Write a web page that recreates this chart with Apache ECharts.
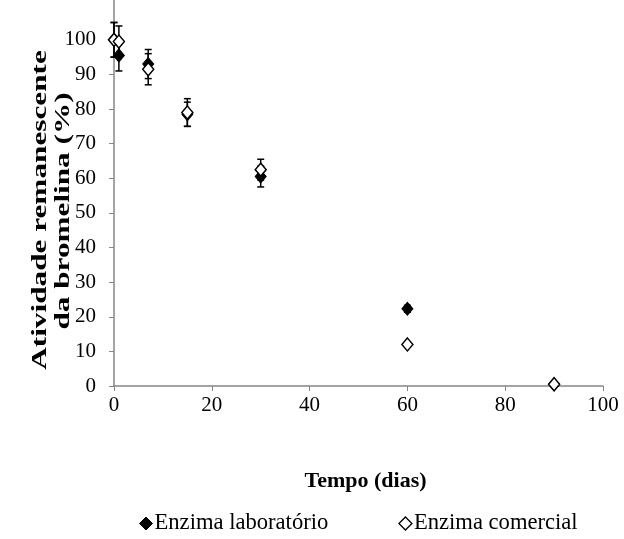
<!DOCTYPE html>
<html><head><meta charset="utf-8">
<script src="https://cdn.jsdelivr.net/npm/echarts@6/dist/echarts.min.js"></script>
<style>html,body{margin:0;padding:0;background:#fff}#c{width:624px;height:539px}</style>
</head><body><div id="c"></div>
<script>
const days = [0, 1, 7, 15, 30, 60, 90];
const labValues = [100, 95.5, 93, 78.5, 60.5, 22.3, 0.5];
const labErr = [5, 4.5, 4.2, 3.5, 3, 1, 0.3];
const comValues = [100, 99.5, 91.5, 79, 62.5, 12, 0.5];
const comErr = [5, 4.5, 4.5, 4, 3, 0.5, 0.3];
const xTicks = [0, 20, 40, 60, 80, 100];
const yTicks = [0, 10, 20, 30, 40, 50, 60, 70, 80, 90, 100];

const font = 'Liberation Serif';
const pts = (v) => days.map((d, i) => [d, v[i]]);
const errData = (v, e) => days.map((d, i) => [d, v[i] - e[i], v[i] + e[i]]);

function errRender(params, api) {
  const x = api.value(0);
  const lo = api.coord([x, api.value(1)]);
  const hi = api.coord([x, api.value(2)]);
  const w = 3.5;
  const st = { stroke: '#000', lineWidth: 1.5 };
  return { type: 'group', children: [
    { type: 'line', shape: { x1: lo[0], y1: lo[1], x2: hi[0], y2: hi[1] }, style: st },
    { type: 'line', shape: { x1: lo[0] - w, y1: lo[1], x2: lo[0] + w, y2: lo[1] }, style: st },
    { type: 'line', shape: { x1: hi[0] - w, y1: hi[1], x2: hi[0] + w, y2: hi[1] }, style: st }
  ]};
}

const chart = echarts.init(document.getElementById('c'), null, { renderer: 'canvas' });
chart.setOption({
  animation: false,
  backgroundColor: '#fff',
  textStyle: { fontFamily: font },
  grid: { left: 114, right: 21, top: 0, bottom: 153, containLabel: false },
  xAxis: {
    type: 'value', min: 0, max: 100, interval: 20,
    name: 'Tempo (dias)', nameLocation: 'middle', nameGap: 84,
    nameTextStyle: { fontFamily: font, fontSize: 22, fontWeight: 'bold', color: '#000', padding: [0, 0, 0, 14] },
    axisLine: { lineStyle: { color: '#868686', width: 1.5 } },
    axisTick: { show: true, inside: false, length: 5, customValues: xTicks, lineStyle: { color: '#868686' } },
    axisLabel: { fontFamily: font, fontSize: 21, color: '#000', margin: 9, customValues: xTicks },
    splitLine: { show: false }
  },
  yAxis: {
    type: 'value', min: 0, max: 111.5, interval: 10,
    axisLine: { lineStyle: { color: '#868686', width: 1.5 } },
    axisTick: { show: true, inside: false, length: 5, customValues: yTicks, lineStyle: { color: '#868686' } },
    axisLabel: { fontFamily: font, fontSize: 21, color: '#000', margin: 18, customValues: yTicks },
    splitLine: { show: false }
  },
  graphic: [
    { type: 'text', x: 40, y: 210, rotation: Math.PI / 2, scaleX: 1.42, scaleY: 1,
      style: { text: 'Atividade remanescente', font: 'bold 22px "Liberation Serif"', fill: '#000',
        textAlign: 'center', textVerticalAlign: 'middle' } },
    { type: 'text', x: 63, y: 211, rotation: Math.PI / 2, scaleX: 1.42, scaleY: 1,
      style: { text: 'da bromelina (%)', font: 'bold 22px "Liberation Serif"', fill: '#000',
        textAlign: 'center', textVerticalAlign: 'middle' } }
  ],
  legend: {
    top: 507, left: 134, itemGap: 70, itemWidth: 13, itemHeight: 13,
    textStyle: { fontFamily: font, fontSize: 22.6, color: '#000', padding: [0, 0, 0, -3] },
    data: [
      { name: 'Enzima laboratório', icon: 'diamond', itemStyle: { color: '#000', borderColor: '#000', borderWidth: 1 } },
      { name: 'Enzima comercial', icon: 'diamond', itemStyle: { color: '#fff', borderColor: '#000', borderWidth: 1.3 } }
    ]
  },
  series: [
    { type: 'custom', name: 'errLab', renderItem: errRender, data: errData(labValues, labErr), z: 1, silent: true },
    { type: 'custom', name: 'errCom', renderItem: errRender, data: errData(comValues, comErr), z: 1, silent: true },
    { type: 'scatter', name: 'Enzima laboratório', data: pts(labValues), symbol: 'diamond', symbolSize: [11, 13],
      itemStyle: { color: '#000', borderColor: '#000', borderWidth: 1, opacity: 1 }, z: 3 },
    { type: 'scatter', name: 'Enzima comercial', data: pts(comValues), symbol: 'diamond', symbolSize: [11, 13],
      itemStyle: { color: '#fff', borderColor: '#000', borderWidth: 1.5, opacity: 1 }, z: 4 }
  ]
});
</script></body></html>
